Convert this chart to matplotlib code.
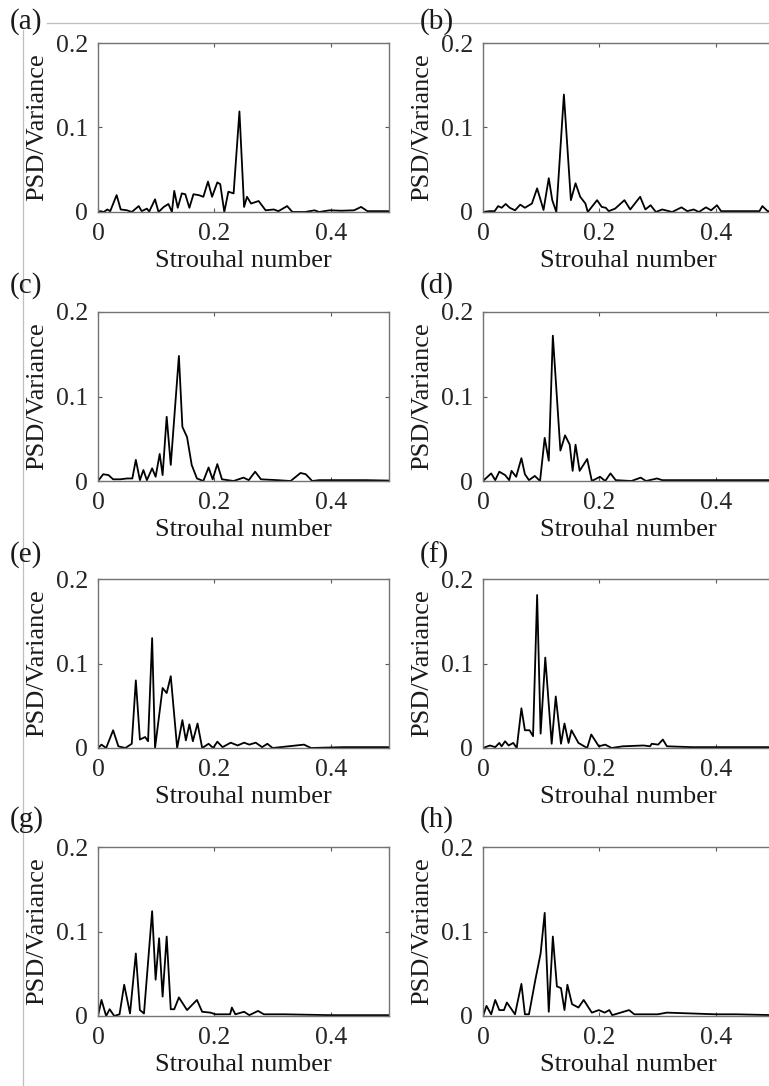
import numpy as np
import matplotlib
matplotlib.use("Agg")
import matplotlib.pyplot as plt
from matplotlib.lines import Line2D

plt.rcParams['font.family'] = ['Liberation Serif', 'DejaVu Serif']

# Espectros (Strouhal, PSD/variancia)
st_a = [0, .004, .010, .016, .021, .032, .039, .050, .058, .070, .075, .084, .088, .098, .104, .113, .121, .127, .131, .137, .144, .150, .157, .164, .173, .181, .189, .196, .205, .210, .217, .224, .233, .243, .251, .256, .263, .276, .288, .302, .310, .325, .334, .356, .372, .380, .398, .418, .440, .452, .463, .500]
psd_a = [0, .001, 0, .003, .001, .020, .003, .002, 0, .007, .001, .004, .0005, .015, 0, .006, .0095, 0, .025, .005, .022, .021, .005, .021, .020, .018, .036, .018, .035, .033, 0, .024, .022, .119, .006, .018, .010, .013, .002, .003, .001, .007, 0, 0, .002, 0, .002, .0015, .002, .006, .001, .001]

st_b = [0, .011, .020, .026, .032, .039, .046, .055, .064, .072, .084, .093, .104, .113, .119, .126, .139, .151, .159, .167, .176, .180, .196, .204, .211, .216, .227, .243, .253, .270, .279, .288, .297, .308, .325, .341, .351, .362, .371, .383, .392, .402, .409, .440, .475, .480, .489, .500]
psd_b = [0, .001, .001, .007, .005, .0095, .005, .002, .0087, .005, .010, .028, .0024, .040, .014, 0, .139, .014, .034, .018, .010, 0, .014, .006, .005, .001, .004, .014, .003, .018, .003, .008, 0, .003, 0, .0055, .001, .003, 0, .0055, .002, .008, .001, .001, .001, .007, .001, .001]

st_c = [0, .009, .018, .026, .038, .050, .059, .065, .072, .078, .084, .093, .099, .106, .111, .118, .125, .139, .145, .153, .161, .170, .181, .190, .197, .205, .213, .233, .250, .259, .270, .280, .308, .331, .348, .357, .368, .380, .420, .460, .500]
psd_c = [0, .008, .007, .002, .002, .003, .003, .025, .001, .013, .001, .015, .005, .032, .007, .076, .019, .148, .064, .052, .019, .003, 0, .016, .002, .020, .002, 0, .004, .001, .011, .002, .001, 0, .0095, .008, 0, .001, .001, .001, .0005]

st_d = [0, .014, .021, .028, .038, .045, .049, .057, .066, .072, .079, .089, .098, .106, .113, .120, .133, .141, .149, .154, .159, .166, .179, .187, .201, .210, .219, .228, .255, .271, .280, .299, .308, .349, .400, .450, .500]
psd_d = [0, .009, .001, .011, .007, .001, .012, .005, .027, .008, .001, .006, 0, .051, .024, .172, .036, .054, .043, .012, .043, .012, .026, 0, .005, 0, .009, .001, 0, .004, 0, .003, .001, .001, .001, .001, .001]

st_e = [0, .006, .014, .026, .035, .047, .058, .065, .072, .081, .086, .093, .098, .111, .118, .125, .136, .145, .151, .157, .163, .171, .179, .190, .198, .205, .214, .228, .240, .251, .260, .271, .282, .291, .300, .354, .366, .420, .500]
psd_e = [0, .004, 0, .021, .002, 0, .005, .080, .010, .013, .008, .130, 0, .071, .065, .085, 0, .033, .009, .028, .008, .029, 0, .005, 0, .0075, .001, .0063, .003, .0063, .004, .0063, .001, .005, 0, .004, 0, .001, .001]

st_f = [0, .012, .021, .028, .032, .038, .044, .052, .058, .066, .072, .080, .086, .093, .099, .107, .118, .125, .134, .140, .147, .152, .164, .179, .186, .199, .210, .221, .240, .276, .287, .290, .301, .309, .316, .360, .420, .500]
psd_f = [0, .003, .001, .006, .002, .008, .003, .006, 0, .047, .021, .021, .014, .181, .017, .107, .005, .061, .005, .029, .006, .021, .006, 0, .016, .002, .004, 0, .002, .003, .002, .005, .004, .010, .002, .001, .001, .001]

st_g = [0, .006, .014, .020, .028, .037, .045, .055, .065, .072, .079, .093, .099, .105, .111, .118, .125, .131, .139, .153, .170, .179, .193, .202, .227, .230, .236, .251, .260, .275, .285, .320, .400, .500]
psd_g = [0, .019, 0, .008, 0, .002, .037, .003, .074, .007, .003, .124, .043, .092, .023, .094, .008, .008, .022, .007, .019, .005, .004, .002, .002, .010, .002, .005, .001, .006, .002, .002, .001, .001]

st_h = [0, .006, .014, .021, .028, .036, .041, .055, .066, .072, .079, .090, .099, .106, .113, .120, .127, .134, .140, .145, .153, .164, .173, .187, .199, .209, .217, .222, .251, .260, .300, .316, .400, .435, .500]
psd_h = [0, .012, .002, .019, .007, .007, .016, .002, .038, .002, .002, .043, .074, .122, .005, .094, .035, .033, .007, .037, .014, .010, .019, .004, .007, .004, .007, .001, .007, .002, .002, .004, .002, .002, .001]

panel_labels = ['(a)', '(b)', '(c)', '(d)', '(e)', '(f)', '(g)', '(h)']
series = [(st_a, psd_a), (st_b, psd_b), (st_c, psd_c), (st_d, psd_d),
          (st_e, psd_e), (st_f, psd_f), (st_g, psd_g), (st_h, psd_h)]
x_ticks = [0, 0.2, 0.4]
x_ticklabels = ['0', '0.2', '0.4']
y_ticks = [0, 0.1, 0.2]
y_ticklabels = ['0', '0.1', '0.2']

W, H = 769, 1086
fig = plt.figure(figsize=(W / 100, H / 100), dpi=100)

# linhas cinzas da borda da pagina (presentes na imagem original)
fig.add_artist(Line2D([47 / W, 1], [1 - 23 / H, 1 - 23 / H], color='0.75', lw=0.9))
fig.add_artist(Line2D([22.5 / W, 22.5 / W], [1 - 30 / H, 0], color='0.75', lw=0.9))

lefts = [98, 483]
tops = [43, 312, 579, 847]
label_y = [22, 286, 555, 820]
ax_w = 291
ax_h = 169

for k, (xs, ys) in enumerate(series):
    row, col = divmod(k, 2)
    l = lefts[col]
    t = tops[row]
    ax = fig.add_axes([l / W, 1 - (t + ax_h) / H, ax_w / W, ax_h / H])
    ax.plot(xs, ys, color='black', lw=1.3)
    ax.set_xlim(0, 0.5)
    ax.set_ylim(0, 0.2)
    ax.set_xticks(x_ticks)
    ax.set_xticklabels(x_ticklabels)
    ax.set_yticks(y_ticks)
    ax.set_yticklabels(y_ticklabels)
    ax.tick_params(direction='in', length=3, width=0.8, top=True, right=True,
                   labelsize=18.5, colors='0.35', labelcolor='0.15')
    ax.tick_params(axis='x', pad=8)
    ax.tick_params(axis='y', pad=7)
    for s in ax.spines.values():
        s.set_color('0.45')
        s.set_linewidth(1.0)
    ax.set_xlabel('Strouhal number', fontsize=19, color='0.1')
    ax.set_ylabel('PSD/Variance', fontsize=19, color='0.1')
    ax.xaxis.set_label_coords(0.5, -0.225)
    ax.yaxis.set_label_coords(-0.172, 0.5)
    fig.text((10 if col == 0 else 420) / W, 1 - label_y[row] / H, panel_labels[k],
             fontsize=21, va='center', ha='left', color='0.1')

fig.savefig('out.png', dpi=100)
